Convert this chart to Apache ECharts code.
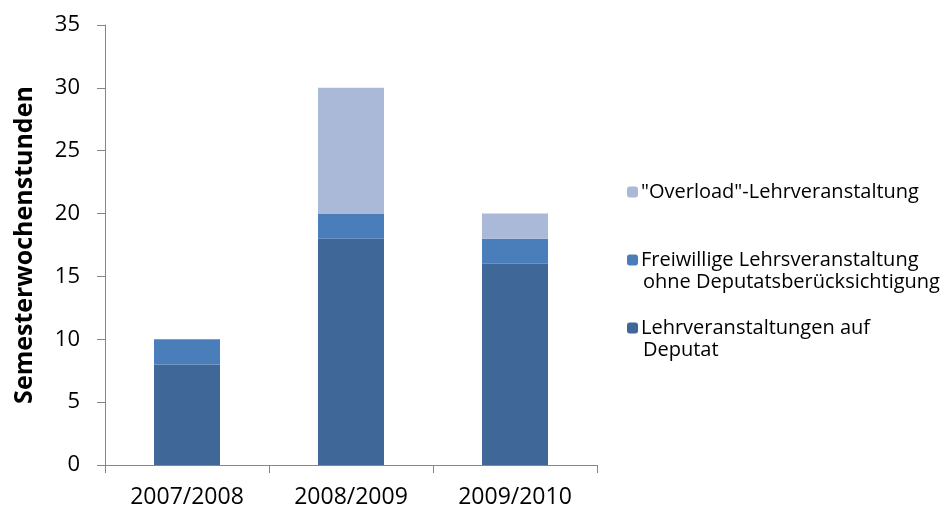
<!DOCTYPE html>
<html><head><meta charset="utf-8">
<script src="https://cdn.jsdelivr.net/npm/echarts@6/dist/echarts.min.js"></script>
<style>html,body{margin:0;padding:0;background:#fff}#c{width:944px;height:520px}</style>
</head><body><div id="c"></div>
<script>
const categories = ['2007/2008', '2008/2009', '2009/2010'];
const deputat = [8, 18, 16];
const freiwillig = [2, 2, 2];
const overload = [0, 10, 2];
const yTicks = [0, 5, 10, 15, 20, 25, 30, 35];
const names = ['Lehrveranstaltungen auf\nDeputat', 'Freiwillige Lehrsveranstaltung\nohne Deputatsberücksichtigung', '"Overload"-Lehrveranstaltung'];

const FONT = 'Open Sans';
const LFS = 20;
const chart = echarts.init(document.getElementById('c'));
const legendBase = {
  orient: 'vertical', left: 622, itemWidth: 11, itemHeight: 11, itemGap: 0,
  textStyle: { fontFamily: FONT, fontSize: LFS, color: '#000', padding: [0,0,0,-2] },
  formatter: n => n.split('\n')[0], selectedMode: false
};
chart.setOption({
  animation: false,
  grid: { left: 105, right: 347, top: 25, bottom: 55 },
  xAxis: {
    type: 'category', data: categories,
    axisLine: { lineStyle: { color: '#868686', width: 1 } },
    axisTick: { show: true, alignWithLabel: false, length: 8, lineStyle: { color: '#868686' } },
    axisLabel: { fontFamily: FONT, fontSize: 23, color: '#000', margin: 21 }
  },
  yAxis: {
    type: 'value', min: yTicks[0], max: yTicks[yTicks.length - 1], interval: 5,
    name: 'Semesterwochenstunden', nameLocation: 'middle', nameGap: 68,
    nameTextStyle: { fontFamily: FONT, fontSize: 25, fontWeight: 'bold', color: '#000' },
    axisLine: { show: true, lineStyle: { color: '#868686', width: 1 } },
    axisTick: { show: true, length: 8, lineStyle: { color: '#868686' } },
    splitLine: { show: false },
    axisLabel: { fontFamily: FONT, fontSize: 22, color: '#000', margin: 25 }
  },
  legend: [
    Object.assign({}, legendBase, { top: 177, data: [names[2]] }),
    Object.assign({}, legendBase, { top: 245, data: [names[1]] }),
    Object.assign({}, legendBase, { top: 313, data: [names[0]] })
  ],
  graphic: [
    { type: 'text', left: 643, top: 272, style: { text: names[1].split('\n')[1], fontFamily: FONT, fontSize: LFS, fill: '#000' } },
    { type: 'text', left: 643, top: 340, style: { text: names[0].split('\n')[1], fontFamily: FONT, fontSize: LFS, fill: '#000' } }
  ],
  series: [
    { name: names[0], type: 'bar', stack: 's', data: deputat, barWidth: 66, itemStyle: { color: '#3F6898' } },
    { name: names[1], type: 'bar', stack: 's', data: freiwillig, barWidth: 66, itemStyle: { color: '#4A7EBB' } },
    { name: names[2], type: 'bar', stack: 's', data: overload, barWidth: 66, itemStyle: { color: '#A9B9D7' } }
  ]
});
</script></body></html>
